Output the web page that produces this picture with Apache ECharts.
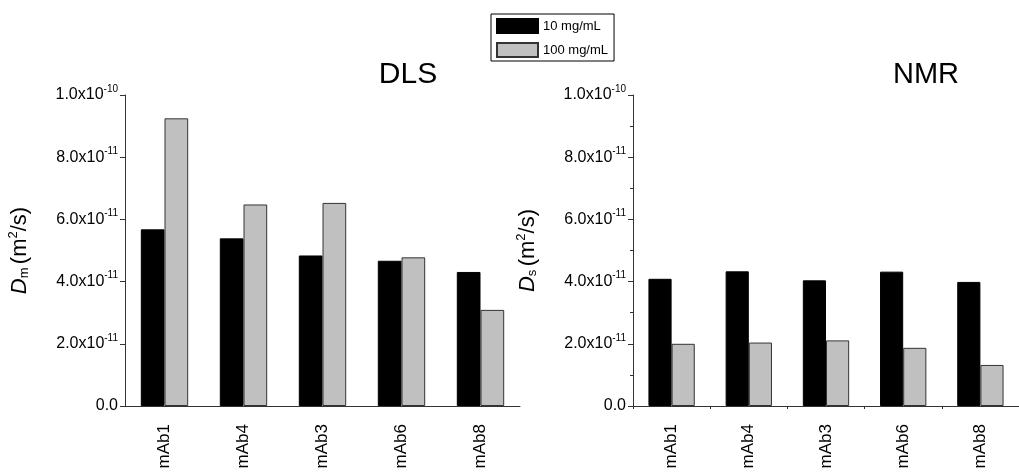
<!DOCTYPE html>
<html>
<head>
<meta charset="utf-8">
<script src="https://cdn.jsdelivr.net/npm/echarts@6/dist/echarts.min.js"></script>
<style>
html,body{margin:0;padding:0;background:#fff;}
#chart{width:1019px;height:475px;}
</style>
</head>
<body>
<div id="chart"></div>
<script>
const categories = ['mAb1', 'mAb4', 'mAb3', 'mAb6', 'mAb8'];
const seriesNames = ['10 mg/mL', '100 mg/mL'];
const dls10 = [5.68e-11, 5.39e-11, 4.84e-11, 4.67e-11, 4.31e-11];
const dls100 = [9.25e-11, 6.48e-11, 6.53e-11, 4.78e-11, 3.09e-11];
const nmr10 = [4.09e-11, 4.33e-11, 4.04e-11, 4.32e-11, 3.99e-11];
const nmr100 = [2.00e-11, 2.04e-11, 2.11e-11, 1.87e-11, 1.32e-11];
const yTicks = { min: 0, max: 1e-10, interval: 2e-11 };

const FONT = '"Liberation Sans", Arial, sans-serif';

function sciLabel(v) {
  if (Math.abs(v) < 1e-20) return '{a|0.0}';
  const e = Math.floor(Math.round(Math.log10(v) * 1e6) / 1e6);
  const m = v / Math.pow(10, e);
  return '{a|' + m.toFixed(1) + 'x10}{b|' + e + '}';
}

const chart = echarts.init(document.getElementById('chart'), null, { renderer: 'canvas' });

const grids = [
  { left: 125, top: 95, width: 395, height: 311 },
  { left: 633, top: 95, width: 395, height: 311 }
];

function xAx(gi) {
  return {
    type: 'category', gridIndex: gi, data: categories,
    axisLine: { lineStyle: { color: '#333', width: 1 } },
    axisTick: { alignWithLabel: true, length: 5, lineStyle: { color: '#333' } },
    axisLabel: { rotate: 90, margin: 18, color: '#000', fontSize: 17, fontFamily: FONT }
  };
}
function yAx(gi, minor, title) {
  return {
    type: 'value', gridIndex: gi, min: yTicks.min, max: yTicks.max, interval: yTicks.interval,
    splitLine: { show: false },
    axisLine: { show: true, lineStyle: { color: '#333', width: 1 } },
    axisTick: { show: true, length: 5, lineStyle: { color: '#333' } },
    minorTick: { show: minor, splitNumber: 2, length: 3, lineStyle: { color: '#333' } },
    axisLabel: {
      margin: 7, formatter: sciLabel,
      rich: {
        a: { fontSize: 16, color: '#000', fontFamily: FONT },
        b: { fontSize: 10, color: '#000', fontFamily: FONT, padding: [0, 0, 12, 0] }
      }
    },
    name: title,
    nameLocation: 'middle', nameGap: 93, nameRotate: 90,
    nameTextStyle: {
      rich: {
        d: { fontSize: 22, fontStyle: 'italic', color: '#000', fontFamily: FONT },
        s: { fontSize: 13, color: '#000', fontFamily: FONT, padding: [10, 0, 0, 0] },
        t: { fontSize: 22, color: '#000', fontFamily: FONT },
        p: { fontSize: 13, color: '#000', fontFamily: FONT, padding: [0, 0, 12, 0] }
      }
    }
  };
}

const barBase = { type: 'bar', barGap: '0%', barCategoryGap: '40%' };

const option = {
  backgroundColor: '#fff',
  animation: false,
  grid: grids,
  legend: {
    orient: 'vertical', left: 491, top: 14,
    data: seriesNames,
    icon: 'rect', itemWidth: 41, itemHeight: 14, itemGap: 8,
    borderColor: '#000', borderWidth: 1, padding: [4, 6, 3, 5],
    textStyle: { fontSize: 13, color: '#000', fontFamily: FONT }
  },
  title: [
    { text: 'DLS', left: 408, top: 60, textAlign: 'center', padding: 0,
      textStyle: { fontSize: 30, fontWeight: 'normal', color: '#000', fontFamily: FONT } },
    { text: 'NMR', left: 926, top: 60, textAlign: 'center', padding: 0,
      textStyle: { fontSize: 29, fontWeight: 'normal', color: '#000', fontFamily: FONT } }
  ],
  xAxis: [xAx(0), xAx(1), {
    type: 'category', gridIndex: 1, data: categories, position: 'bottom',
    axisLine: { show: false }, axisLabel: { show: false },
    axisTick: { show: true, length: 3, lineStyle: { color: '#333' } }
  }],
  yAxis: [yAx(0, false, '{d|D}{s|m} {t|(m}{p|2}{t|/s)}'), yAx(1, true, '{d|D}{s|s} {t|(m}{p|2}{t|/s)}')],
  series: [
    Object.assign({}, barBase, { name: seriesNames[0], xAxisIndex: 0, yAxisIndex: 0, data: dls10,
      itemStyle: { color: '#000', borderColor: '#000', borderWidth: 1 } }),
    Object.assign({}, barBase, { name: seriesNames[1], xAxisIndex: 0, yAxisIndex: 0, data: dls100,
      itemStyle: { color: '#c0c0c0', borderColor: '#333', borderWidth: 1 } }),
    Object.assign({}, barBase, { name: seriesNames[0], xAxisIndex: 1, yAxisIndex: 1, data: nmr10,
      itemStyle: { color: '#000', borderColor: '#000', borderWidth: 1 } }),
    Object.assign({}, barBase, { name: seriesNames[1], xAxisIndex: 1, yAxisIndex: 1, data: nmr100,
      itemStyle: { color: '#c0c0c0', borderColor: '#333', borderWidth: 1 } })
  ]
};
chart.setOption(option);
</script>
</body>
</html>
